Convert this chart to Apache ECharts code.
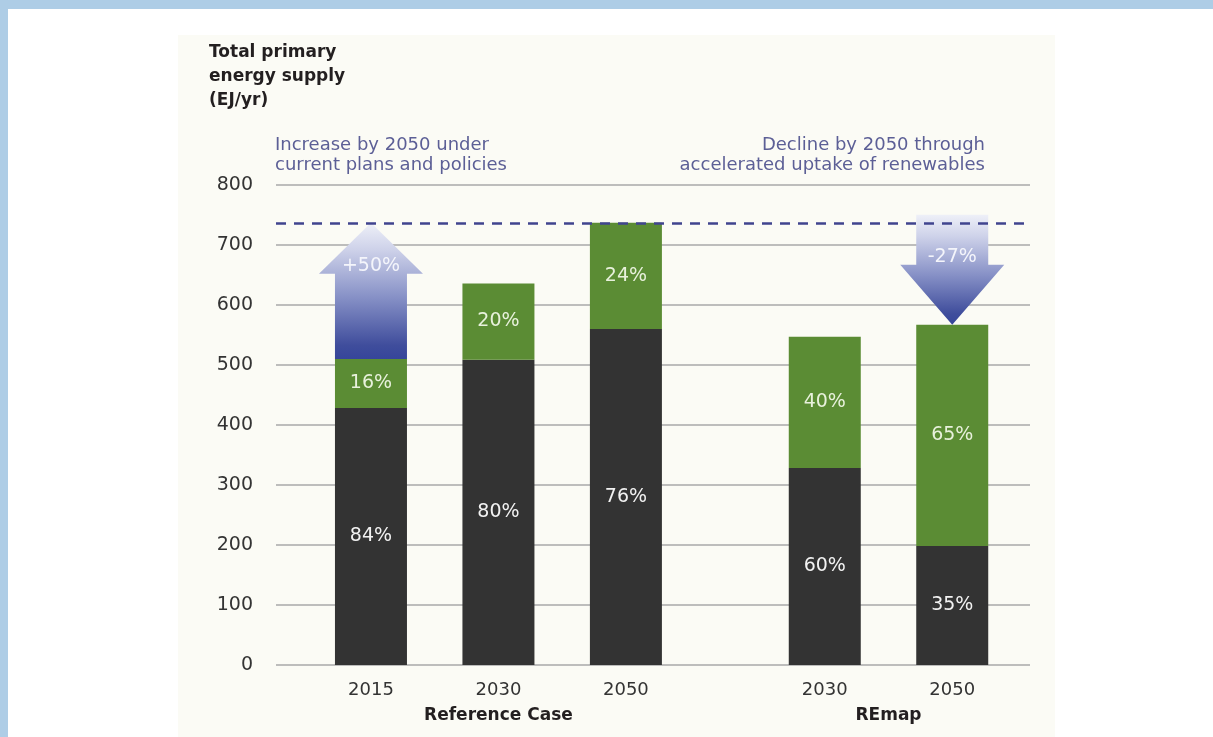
<!DOCTYPE html>
<html>
<head>
<meta charset="utf-8">
<script src="https://cdn.jsdelivr.net/npm/echarts@6/dist/echarts.min.js"></script>
<style>
  html, body { margin: 0; padding: 0; width: 1213px; height: 737px; overflow: hidden; background: #ffffff; }
  #frameTop { position: absolute; left: 0; top: 0; width: 1213px; height: 9px; background: #aecde6; }
  #frameLeft { position: absolute; left: 0; top: 0; width: 8px; height: 737px; background: #aecde6; }
  #panel { position: absolute; left: 178px; top: 35px; width: 877px; height: 702px; background: #fbfbf5; }
  #chart { position: absolute; left: 0; top: 0; width: 1213px; height: 737px; }
</style>
</head>
<body>
<div id="frameTop"></div>
<div id="frameLeft"></div>
<div id="panel"></div>
<div id="chart"></div>
<script>
// Total primary energy supply (EJ/yr) by scenario and year
const groups = ['Reference Case', 'REmap'];
const years = ['2015', '2030', '2050', '2030', '2050'];
const groupOf = [0, 0, 0, 1, 1];
const totals = [510, 636, 737, 547, 567];
const fossilShare = [84, 80, 76, 60, 35];      // % non-renewable
const renewableShare = [16, 20, 24, 40, 65];   // % renewable
const yTicks = { min: 0, max: 800, step: 100 };

// Change arrows: bar index, start total, end total, caption
const changeArrows = [
  { bar: 0, from: totals[0], to: totals[2], text: '+50%' },
  { bar: 4, from: totals[2], to: totals[4], text: '-27%' }
];
const referenceLevel = totals[2];

// Layout: extra space between the two scenario groups (in bar slots)
const GROUP_GAP = 0.56;
const xPos = years.map((_, i) => i + groupOf[i] * GROUP_GAP);
const groupCenter = groups.map((_, g) => {
  const xs = xPos.filter((_, i) => groupOf[i] === g);
  return g === 0 ? xs[Math.floor(xs.length / 2)] : (xs[0] + xs[xs.length - 1]) / 2;
});

// Segment bounds: non-renewable from 0, renewable stacked above it
const fossil = totals.map((t, i) => t * fossilShare[i] / 100);

const FONT = '"DejaVu Sans", "Open Sans", sans-serif';
const BAR_W = 72;

const chart = echarts.init(document.getElementById('chart'), null, { renderer: 'canvas' });

const arrowGradient = () => new echarts.graphic.LinearGradient(0, 0, 0, 1, [
  { offset: 0, color: '#eef0f8' },
  { offset: 0.2, color: '#cdd1e9' },
  { offset: 0.55, color: '#8690c6' },
  { offset: 0.9, color: '#3f4d9c' },
  { offset: 1, color: '#36459a' }
]);

// Draws one stacked segment [x, lower, upper] with its share centred inside
function segmentRenderer(fill, textColor, shares) {
  return function (params, api) {
    const x = api.value(0);
    const lo = api.coord([x, api.value(1)]);
    const hi = api.coord([x, api.value(2)]);
    const left = lo[0] - BAR_W / 2;
    return {
      type: 'group',
      children: [
        {
          type: 'rect',
          shape: { x: left, y: hi[1], width: BAR_W, height: lo[1] - hi[1] },
          style: { fill: fill }
        },
        {
          type: 'text',
          style: {
            x: lo[0], y: (lo[1] + hi[1]) / 2, text: shares[params.dataIndex] + '%',
            align: 'center', verticalAlign: 'middle', font: '19px ' + FONT, fill: textColor
          }
        }
      ]
    };
  };
}

// Text placed below the zero line at a given x
function belowAxisRenderer(labels, font, color, offset) {
  return function (params, api) {
    const p = api.coord([api.value(0), 0]);
    return {
      type: 'text',
      style: {
        x: p[0], y: p[1] + offset, text: labels[params.dataIndex],
        align: 'center', verticalAlign: 'middle', font: font, fill: color
      }
    };
  };
}

chart.setOption({
  animation: false,
  backgroundColor: 'transparent',
  graphic: [
    {
      type: 'text', x: 209, y: 41,
      style: {
        text: 'Total primary\nenergy supply\n(EJ/yr)',
        font: 'bold 17px ' + FONT, lineHeight: 24, fill: '#231f20',
        align: 'left', verticalAlign: 'top'
      }
    },
    {
      type: 'text', x: 275, y: 135,
      style: {
        text: 'Increase by 2050 under\ncurrent plans and policies',
        font: '18px ' + FONT, lineHeight: 20, fill: '#5c5f96',
        align: 'left', verticalAlign: 'top'
      }
    },
    {
      type: 'text', x: 985, y: 135,
      style: {
        text: 'Decline by 2050 through\naccelerated uptake of renewables',
        font: '18px ' + FONT, lineHeight: 20, fill: '#5c5f96',
        align: 'right', verticalAlign: 'top'
      }
    }
  ],
  grid: { left: 276, right: 183, top: 185, bottom: 72, containLabel: false },
  xAxis: {
    type: 'value', min: -0.745, max: 5.17,
    axisLine: { show: false }, axisTick: { show: false },
    axisLabel: { show: false }, splitLine: { show: false }
  },
  yAxis: {
    type: 'value', min: yTicks.min, max: yTicks.max, interval: yTicks.step,
    axisLine: { show: false }, axisTick: { show: false },
    axisLabel: { color: '#333333', fontSize: 19, fontFamily: FONT, margin: 23 },
    splitLine: { lineStyle: { color: '#a8a8a8', width: 1.5 } }
  },
  series: [
    {
      name: 'Non-renewable', type: 'custom', z: 3,
      renderItem: segmentRenderer('#333333', '#f2f2f2', fossilShare),
      data: xPos.map((x, i) => [x, 0, fossil[i]])
    },
    {
      name: 'Renewable', type: 'custom', z: 3,
      renderItem: segmentRenderer('#5b8c34', '#e8f1dc', renewableShare),
      data: xPos.map((x, i) => [x, fossil[i], totals[i]])
    },
    {
      name: 'Change', type: 'custom', z: 4,
      data: changeArrows.map(a => [xPos[a.bar], a.from, a.to]),
      renderItem(params, api) {
        const a = changeArrows[params.dataIndex];
        const x = api.value(0);
        const p0 = api.coord([x, api.value(1)]);
        const p1 = api.coord([x, api.value(2)]);
        const cx = p0[0];
        const dir = p1[1] > p0[1] ? 1 : -1;   // 1 = pointing down
        const headLen = dir > 0 ? 60 : 51;
        const headHalf = 52;
        const half = BAR_W / 2;
        const start = dir > 0 ? p0[1] - 8 : p0[1];
        const tip = p1[1];
        const base = tip - dir * headLen;
        const pts = [
          [cx - half, start], [cx - half, base], [cx - headHalf, base],
          [cx, tip], [cx + headHalf, base], [cx + half, base], [cx + half, start]
        ];
        return {
          type: 'group',
          children: [
            { type: 'polygon', shape: { points: pts }, style: { fill: arrowGradient() } },
            {
              type: 'text',
              style: {
                x: cx, y: base - 8, text: a.text, align: 'center', verticalAlign: 'middle',
                font: '19px ' + FONT, fill: '#f4f5fb'
              }
            }
          ]
        };
      }
    },
    {
      name: 'Reference 2050', type: 'line', data: [], z: 6,
      markLine: {
        silent: true, symbol: 'none',
        label: { show: false },
        lineStyle: { color: '#40448e', width: 2.5, type: [10, 8] },
        data: [{ yAxis: referenceLevel }]
      }
    },
    {
      name: 'Years', type: 'custom', silent: true,
      renderItem: belowAxisRenderer(years, '18px ' + FONT, '#333333', 25),
      data: xPos.map(x => [x, 0])
    },
    {
      name: 'Groups', type: 'custom', silent: true,
      renderItem: belowAxisRenderer(groups, 'bold 17px ' + FONT, '#231f20', 51),
      data: groupCenter.map(x => [x, 0])
    }
  ]
});
</script>
</body>
</html>
